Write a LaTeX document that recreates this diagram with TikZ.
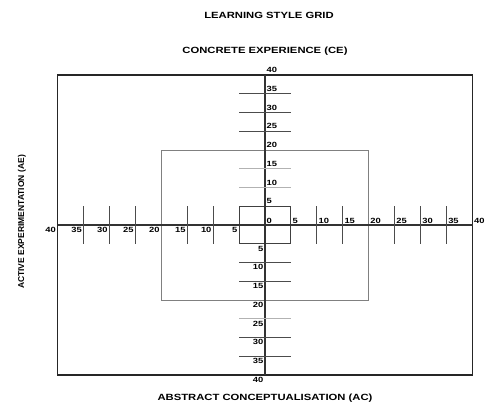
\documentclass[tikz,border=0pt]{standalone}
\usepackage{fontspec}
\newfontfamily\gridfont{Liberation Sans}[FakeStretch=1.25]
\newfontfamily\sidefont{Liberation Sans}
\begin{document}
\begin{tikzpicture}[x=1pt,y=-1pt,
  outer/.style={draw=black!85,line width=1.6pt},
  axis/.style={draw=black!80,line width=1.1pt},
  midbox/.style={draw=black!50,line width=0.9pt},
  innerbox/.style={draw=black!75,line width=1.1pt},
  tickdark/.style={draw=black!70,line width=1pt},
  ticklight/.style={draw=black!30,line width=0.9pt},
  num/.style={inner sep=0pt,font=\gridfont\bfseries\fontsize{7.5}{8}\selectfont},
  ttl/.style={inner sep=0pt,font=\gridfont\bfseries\fontsize{9}{10}\selectfont},
  side/.style={inner sep=0pt,font=\sidefont\bfseries\fontsize{8.5}{9}\selectfont}]
\useasboundingbox (0,0) rectangle (487,405);
\def\cx{265}\def\cy{225}\def\sx{5.1875}\def\sy{3.75}
% boxes
\draw[outer] (57.5,75) rectangle (472.5,375);
\draw[midbox] (161.25,150) rectangle (368.75,300);
\draw[innerbox] (239.06,206.25) rectangle (290.94,243.75);
% axes
\coordinate (L) at (57.5,225); \coordinate (R) at (472.5,225);
\coordinate (T) at (265,75); \coordinate (B) at (265,375);
\draw[axis] (L) -- (R);
\draw[axis] (T) -- (B);
% horizontal-axis ticks
\foreach \k in {-35,-30,-25,-15,-10,10,15,25,30,35}{
  \draw[tickdark] ({\cx+\sx*\k},206.25) -- ({\cx+\sx*\k},243.75);
}
% vertical-axis ticks
\foreach \k/\s in {35/tickdark,30/tickdark,25/tickdark,15/ticklight,10/ticklight,-10/tickdark,-15/tickdark,-25/ticklight,-30/tickdark,-35/tickdark}{
  \draw[\s] (239.06,{\cy-\sy*\k}) -- (290.94,{\cy-\sy*\k});
}
% labels
\node[num,anchor=south west] (n0) at (266.5,223.5) {0};
\foreach \k in {5,10,...,40}{
  \node[num,anchor=south west] (hr\k) at ({\cx+\sx*\k+1.5},223.5) {\k};
  \node[num,anchor=north east] (hl\k) at ({\cx-\sx*\k-1.5},227) {\k};
  \node[num,anchor=south west] (vt\k) at (266.5,{\cy-\sy*\k-2}) {\k};
  \node[num,anchor=north east] (vb\k) at (263.5,{\cy+\sy*\k+2}) {\k};
}
% titles
\node[ttl] (title) at (269,15.5) {LEARNING STYLE GRID};
\node[ttl] (ce) at (265,51.5) {CONCRETE EXPERIENCE (CE)};
\node[ttl] (ac) at (265,398.5) {ABSTRACT CONCEPTUALISATION (AC)};
\node[side,rotate=90] (ae) at (22,222) {ACTIVE EXPERIMENTATION (AE)};
\end{tikzpicture}
\end{document}
